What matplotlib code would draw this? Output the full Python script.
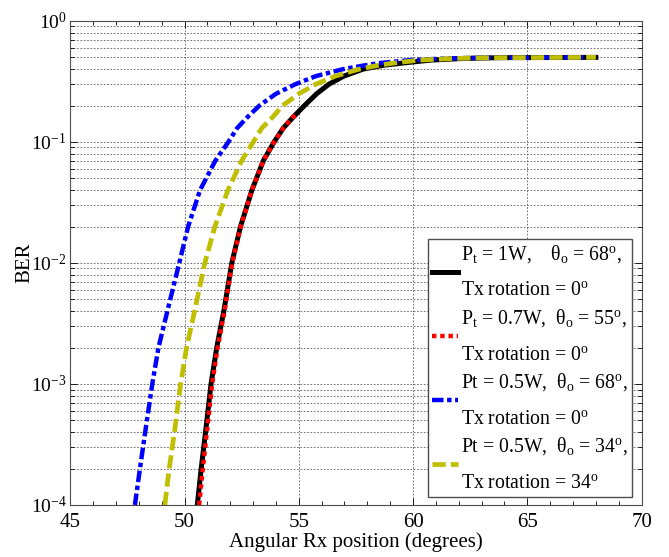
import matplotlib
matplotlib.use("Agg")
import matplotlib.pyplot as plt
from matplotlib.ticker import MultipleLocator, LogLocator, NullFormatter

plt.rcParams['font.family'] = ['Liberation Serif', 'DejaVu Serif']
plt.rcParams['mathtext.fontset'] = 'custom'
plt.rcParams['mathtext.rm'] = 'Liberation Serif'
plt.rcParams['mathtext.it'] = 'Liberation Serif:italic'
plt.rcParams['mathtext.default'] = 'regular'
plt.rcParams['axes.unicode_minus'] = False

# BER vs angular Rx position
black_x = [50.56, 50.73, 50.92, 51.16, 51.41, 51.72, 52.07, 52.45, 52.95, 53.45,
           53.92, 54.32, 54.75, 55.25, 55.78, 56.32, 56.97, 57.82, 58.7, 59.6,
           60.8, 62.2, 63.8, 68.0]
black_ber = [1e-4, 2e-4, 4e-4, 1e-3, 2e-3, 4e-3, 1e-2, 2e-2, 4e-2, 0.07,
             0.1, 0.13, 0.16, 0.2, 0.25, 0.3, 0.35, 0.4, 0.43, 0.45,
             0.475, 0.49, 0.497, 0.5]

red_x = [50.64, 50.80, 50.98, 51.21, 51.45, 51.75, 52.09, 52.46, 52.95, 53.45,
         53.92, 54.32, 54.7, 54.9]
red_ber = [1e-4, 2e-4, 4e-4, 1e-3, 2e-3, 4e-3, 1e-2, 2e-2, 4e-2, 0.07,
           0.1, 0.13, 0.158, 0.168]

blue_x = [47.83, 48.05, 48.28, 48.59, 48.86, 49.25, 49.77, 50.16, 50.68, 51.35,
          51.92, 52.3, 52.75, 53.28, 54.0, 54.85, 55.75, 56.95, 57.9, 58.6,
          59.9, 61.5, 63.5, 68.0]
blue_ber = [1e-4, 2e-4, 4e-4, 1e-3, 2e-3, 4e-3, 1e-2, 2e-2, 4e-2, 0.07,
            0.1, 0.13, 0.16, 0.2, 0.25, 0.3, 0.35, 0.4, 0.43, 0.45,
            0.475, 0.49, 0.497, 0.5]

yellow_x = [49.14, 49.33, 49.56, 49.83, 50.09, 50.44, 50.89, 51.33, 51.9, 52.5,
            53.01, 53.38, 53.85, 54.3, 55.0, 55.75, 56.6, 57.65, 58.5, 59.2,
            60.3, 61.8, 63.6, 68.0]
yellow_ber = [1e-4, 2e-4, 4e-4, 1e-3, 2e-3, 4e-3, 1e-2, 2e-2, 4e-2, 0.07,
              0.1, 0.13, 0.16, 0.2, 0.25, 0.3, 0.35, 0.4, 0.43, 0.45,
              0.475, 0.49, 0.497, 0.5]

labels = [
    "P$_t$ = 1W,    θ$_o$ = 68$^o$,\nTx rotation = 0$^o$",
    "P$_t$ = 0.7W,  θ$_o$ = 55$^o$,\nTx rotation = 0$^o$",
    "Pt = 0.5W,  θ$_o$ = 68$^o$,\nTx rotation = 0$^o$",
    "Pt = 0.5W,  θ$_o$ = 34$^o$,\nTx rotation = 34$^o$",
]

fig = plt.figure(figsize=(6.69, 5.57), dpi=100)
ax = fig.add_axes([0.105, 0.0934, 0.854, 0.869])

ax.semilogy(black_x, black_ber, color='black', lw=3.6, label=labels[0])
ax.semilogy(red_x, red_ber, color='red', lw=3.2, linestyle=(0, (1, 0.85)),
            label=labels[1])
ax.semilogy(blue_x, blue_ber, color='blue', lw=3.2,
            linestyle=(0, (2.6, 0.8, 1, 0.8)), label=labels[2])
ax.semilogy(yellow_x, yellow_ber, color='#bfbf00', lw=3.4,
            linestyle=(0, (2.8, 1.1)), label=labels[3])

ax.set_xlim(45, 70)
ax.set_ylim(1e-4, 1)
ax.xaxis.set_major_locator(MultipleLocator(5))
ax.xaxis.set_minor_locator(MultipleLocator(1))
ax.yaxis.set_major_locator(LogLocator(base=10, numticks=10))
ax.yaxis.set_minor_locator(LogLocator(base=10, subs=range(2, 10), numticks=20))
ax.yaxis.set_minor_formatter(NullFormatter())

ax.grid(True, which='major', axis='both', color='0.35', lw=0.6,
        linestyle=(0, (2, 2)))
ax.grid(True, which='minor', axis='y', color='0.35', lw=0.6,
        linestyle=(0, (2, 2)))

ax.tick_params(which='both', direction='in', top=True, right=True, width=0.6)
ax.tick_params(which='major', length=5)
ax.tick_params(which='minor', length=3)
ax.tick_params(axis='x', pad=6, labelsize=15)
ax.tick_params(axis='y', pad=2.5, labelsize=14)
for sp in ax.spines.values():
    sp.set_color('0.3')

ax.set_xlabel('Angular Rx position (degrees)', fontsize=15, labelpad=0)
ax.set_ylabel('BER', fontsize=15, labelpad=-2.5)

leg = ax.legend(loc='lower right', bbox_to_anchor=(0.983, 0.0165),
                borderaxespad=0, fontsize=14.2, fancybox=False,
                edgecolor='0.3', framealpha=1, handlelength=1.35,
                handletextpad=0.15, labelspacing=0.33, borderpad=0.2)
leg.get_frame().set_linewidth(1.0)
for t in leg.get_texts():
    t.set_linespacing(2.2)

fig.savefig('out.png', dpi=100)
